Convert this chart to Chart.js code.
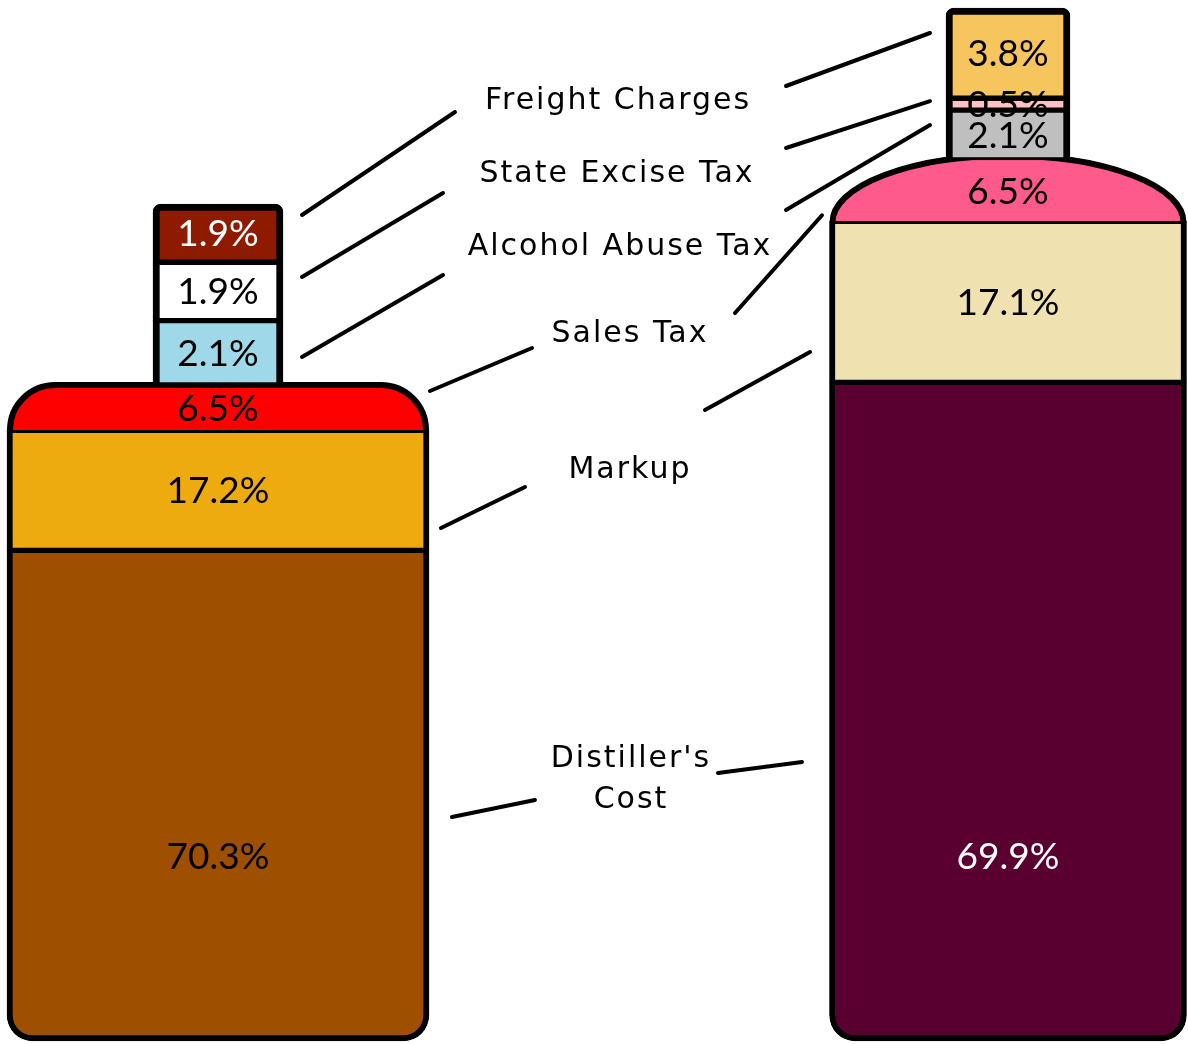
<!DOCTYPE html>
<html>
<head>
<meta charset="utf-8">
<script src="https://cdn.jsdelivr.net/npm/chart.js@4.4.1/dist/chart.umd.min.js"></script>
<style>
  html, body { margin: 0; padding: 0; background: #fff; }
  #wrap { position: relative; width: 1188px; height: 1044px; }
</style>
</head>
<body>
<div id="wrap"><canvas id="chart"></canvas></div>
<script>
// data, bottom of the bottle first
const bottles = ['Spirits', 'Wine'];
const items = ["Distiller's Cost", 'Markup', 'Sales Tax', 'Alcohol Abuse Tax', 'State Excise Tax', 'Freight Charges'];
const spiritsShare = [70.3, 17.2, 6.5, 2.1, 1.9, 1.9];
const wineShare = [69.9, 17.1, 6.5, 2.1, 0.5, 3.8];
const bodyItems = 3; // the first three fill the body, the rest the neck

const spiritsColors = ['#9e4f00', '#eeab10', '#ff0000', '#9fd8e8', '#ffffff', '#8e1b00'];
const wineColors = ['#5a0030', '#efe2b0', '#ff5a8c', '#bfbfbf', '#ffc1c1', '#f7c55e'];
const spiritsInk = ['#000', '#000', '#000', '#000', '#000', '#fff'];
const wineInk = ['#fff', '#000', '#000', '#000', '#000', '#000'];

// pixel frame [bottom, top] each hidden axis is stretched over, and bar widths
const H = 1044;
const frames = {
  spiritsBody: [1041, 385], spiritsNeck: [385, 204],
  wineBody: [1041, 160], wineNeck: [160, 8]
};
const widths = { spiritsBody: 422, spiritsNeck: 130, wineBody: 357, wineNeck: 124 };

// middle captions: text baselines, caption end of each leader and where it
// aims at the bottle [spirits, wine]; the bottle end is kept inside its segment
const callouts = [
  { item: 5, x: 617, y: [109], ends: [[455, 112], [786, 86]], tips: [[302, 215], [930, 33]] },
  { item: 4, x: 616, y: [182], ends: [[443, 193], [786, 148]], tips: [[302, 277], [930, 90]] },
  { item: 3, x: 619, y: [255], ends: [[443, 275], [786, 210]], tips: [[302, 357], [930, 125]] },
  { item: 2, x: 629, y: [342], ends: [[532, 348], [735, 313]], tips: [[430, 389], [822, 253]] },
  { item: 1, x: 629, y: [478], ends: [[525, 487], [705, 410]], tips: [[441, 528], [810, 352]] },
  { item: 0, x: 630, y: [767, 808], ends: [[535, 800], [718, 773]], tips: [[452, 817], [802, 762]] }
];

const sum = a => a.reduce((s, v) => s + v, 0);

function axis(key, total) {
  const [bottom, top] = frames[key];
  const ppu = (bottom - top) / total;
  return { type: 'linear', display: false, stacked: true, min: -(H - bottom) / ppu, max: total + top / ppu };
}

function bottleSets(b, values, colors, ink) {
  const name = b === 0 ? 'spirits' : 'wine';
  const n = values.length;
  return values.map((v, i) => {
    const part = i < bodyItems ? 'Body' : 'Neck';
    const side = part === 'Body' ? 6 : 7;
    let radius = 0;
    if (i === 0) radius = { bottomLeft: 26, bottomRight: 26, topLeft: 0, topRight: 0 };
    if (i === n - 1) radius = { topLeft: 8, topRight: 8, bottomLeft: 0, bottomRight: 0 };
    return {
      label: items[i],
      data: bottles.map((_, k) => k === b ? v : null),
      yAxisID: name + part,
      barThickness: widths[name + part],
      // the shoulder (sales tax) is painted by the plugin below
      backgroundColor: i === 2 ? 'transparent' : colors[i],
      borderColor: '#000',
      borderWidth: i === 2 ? 0 : { left: side, right: side, top: i === n - 1 ? 7 : 3, bottom: i === 0 ? 6 : 3 },
      borderRadius: radius,
      borderSkipped: false,
      grouped: false,
      clip: false,
      fill: colors[i],
      ink: ink[i],
      bottle: b,
      item: i
    };
  });
}

const datasets = [
  ...bottleSets(0, spiritsShare, spiritsColors, spiritsInk),
  ...bottleSets(1, wineShare, wineColors, wineInk)
];

const bottleArt = {
  id: 'bottleArt',
  beforeDatasetsDraw(chart) {
    const ctx = chart.ctx;
    chart.data.datasets.forEach((ds, di) => {
      if (ds.item !== 2) return;
      const el = chart.getDatasetMeta(di).data[ds.bottle];
      const neck = chart.getDatasetMeta(di + 1).data[ds.bottle];
      const x0 = el.x - el.width / 2 + 3, x1 = el.x + el.width / 2 - 3;
      const top = el.y, bottom = el.base + 1;
      ctx.save();
      ctx.fillStyle = ds.fill;
      ctx.strokeStyle = '#000';
      ctx.lineWidth = 6;
      if (ds.bottle === 0) {
        const r = Math.min(45, bottom - top);
        ctx.beginPath();
        ctx.moveTo(x0, bottom);
        ctx.lineTo(x0, top + r);
        ctx.arcTo(x0, top, x0 + r, top, r);
        ctx.lineTo(x1 - r, top);
        ctx.arcTo(x1, top, x1, top + r, r);
        ctx.lineTo(x1, bottom);
        ctx.fill();
        ctx.stroke();
      } else {
        const rx = (x1 - x0) / 2, nh = neck.width / 2;
        const ry = (bottom - top) / Math.sqrt(1 - (nh / rx) ** 2);
        ctx.beginPath();
        ctx.rect(0, top - 3, chart.width, chart.height);
        ctx.clip();
        ctx.beginPath();
        ctx.ellipse(el.x, bottom, rx, ry, 0, Math.PI, 2 * Math.PI);
        ctx.fill();
        ctx.stroke();
      }
      ctx.restore();
    });
  },
  afterDatasetsDraw(chart) {
    const ctx = chart.ctx;
    ctx.save();
    // values inside the segments
    ctx.font = '37px Lato';
    ctx.textAlign = 'center';
    ctx.textBaseline = 'alphabetic';
    chart.data.datasets.forEach((ds, di) => {
      const el = chart.getDatasetMeta(di).data[ds.bottle];
      const v = ds.data[ds.bottle];
      const cy = ds.item === 0 ? el.base - 185 : (el.y + el.base) / 2;
      ctx.fillStyle = ds.ink;
      ctx.fillText(v.toFixed(1) + '%', el.x, cy + 13);
    });
    // captions and leader lines
    ctx.font = '30px "DejaVu Sans"';
    ctx.letterSpacing = '2px';
    ctx.fillStyle = '#000';
    ctx.strokeStyle = '#000';
    ctx.lineWidth = 4;
    ctx.lineCap = 'round';
    callouts.forEach(c => {
      const lines = c.item === 0 ? items[0].split(' ') : [items[c.item]];
      lines.forEach((t, k) => ctx.fillText(t, c.x + 1, c.y[k]));
      [0, 1].forEach(b => {
        const el = chart.getDatasetMeta(b * items.length + c.item).data[b];
        const m = Math.min(6, (el.base - el.y) / 4);
        const tipY = Math.min(Math.max(c.tips[b][1], el.y + m), el.base - m);
        ctx.beginPath();
        ctx.moveTo(c.tips[b][0], tipY);
        ctx.lineTo(c.ends[b][0], c.ends[b][1]);
        ctx.stroke();
      });
    });
    ctx.restore();
  }
};

new Chart(document.getElementById('chart'), {
  type: 'bar',
  data: { labels: bottles, datasets },
  options: {
    responsive: true,
    maintainAspectRatio: false,
    animation: false,
    events: [],
    layout: { padding: { left: 218, right: 180, top: 0, bottom: 0 } },
    plugins: { legend: { display: false }, tooltip: { enabled: false } },
    scales: {
      x: { type: 'category', display: false, stacked: true, offset: false },
      spiritsBody: axis('spiritsBody', sum(spiritsShare.slice(0, bodyItems))),
      spiritsNeck: axis('spiritsNeck', sum(spiritsShare.slice(bodyItems))),
      wineBody: axis('wineBody', sum(wineShare.slice(0, bodyItems))),
      wineNeck: axis('wineNeck', sum(wineShare.slice(bodyItems)))
    }
  },
  plugins: [bottleArt]
});
</script>
</body>
</html>
